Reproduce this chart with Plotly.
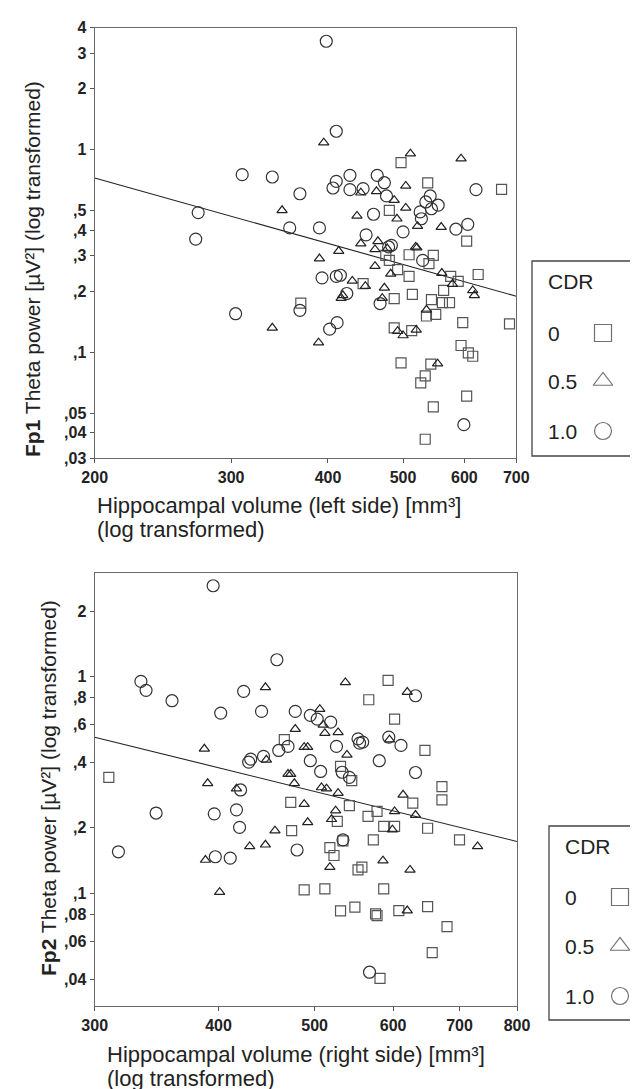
import plotly.graph_objects as go

# ---------------- data: top panel (Fp1 vs left hippocampal volume) ----------------
top_x_cdr0 = [369, 497, 538, 670, 480, 604, 509, 547, 475, 480, 540, 492, 509, 576, 589, 625, 444, 564, 487, 514,
              544, 562, 574, 536, 551, 597, 686, 487, 513, 594, 607, 615, 497, 543, 534, 527, 604, 547, 534]
top_y_cdr0 = [0.175, 0.863, 0.685, 0.637, 0.502, 0.354, 0.303, 0.301, 0.301, 0.284, 0.274, 0.256, 0.237, 0.237,
              0.224, 0.242, 0.218, 0.202, 0.184, 0.193, 0.182, 0.176, 0.176, 0.151, 0.154, 0.140, 0.138, 0.132,
              0.128, 0.108, 0.0992, 0.0956, 0.0886, 0.0873, 0.0764, 0.0706, 0.0607, 0.0537, 0.0372]

top_x_cdr05 = [349, 339, 395, 511, 594, 504, 441, 462, 487, 504, 436, 491, 522, 560, 441, 464, 460, 477, 519, 521,
               413, 390, 460, 482, 561, 579, 430, 447, 473, 615, 618, 418, 416, 470, 536, 389, 492, 500, 520, 554]
top_y_cdr05 = [0.502, 0.132, 1.083, 0.956, 0.903, 0.662, 0.613, 0.623, 0.563, 0.516, 0.471, 0.456, 0.419, 0.415,
               0.344, 0.353, 0.322, 0.325, 0.331, 0.328, 0.316, 0.290, 0.266, 0.244, 0.246, 0.217, 0.225, 0.212,
               0.208, 0.202, 0.191, 0.191, 0.185, 0.185, 0.162, 0.1115, 0.127, 0.121, 0.129, 0.0879]

top_x_cdr1 = [310, 339, 368, 272, 357, 270, 368, 304, 398, 410, 427, 463, 410, 473, 406, 427, 444, 476, 542, 555,
              535, 544, 621, 458, 526, 528, 606, 585, 390, 500, 448, 483, 479, 530, 393, 410, 415, 423, 467, 411,
              402, 599]
top_y_cdr1 = [0.753, 0.733, 0.606, 0.489, 0.411, 0.362, 0.161, 0.155, 3.43, 1.233, 0.747, 0.747, 0.698, 0.687,
              0.647, 0.635, 0.642, 0.591, 0.591, 0.532, 0.552, 0.511, 0.635, 0.480, 0.493, 0.456, 0.428, 0.405,
              0.411, 0.393, 0.380, 0.337, 0.331, 0.284, 0.233, 0.237, 0.240, 0.195, 0.174, 0.140, 0.130, 0.0439]

top_fit_x = [200, 700]
top_fit_y = [0.725, 0.189]

# ---------------- data: bottom panel (Fp2 vs right hippocampal volume) ----------------
bot_x_cdr0 = [466, 310, 473, 474, 488, 593, 567, 602, 646, 531, 545, 672, 672, 628, 542, 578, 566, 527, 587, 602,
              650, 534, 573, 700, 518, 523, 553, 558, 512, 587, 531, 549, 576, 578, 608, 650, 680, 657, 582]
bot_y_cdr0 = [0.510, 0.342, 0.262, 0.194, 0.1033, 0.958, 0.780, 0.635, 0.455, 0.384, 0.330, 0.310, 0.269, 0.260,
              0.253, 0.238, 0.226, 0.214, 0.203, 0.203, 0.199, 0.174, 0.176, 0.176, 0.162, 0.149, 0.1278, 0.1316,
              0.1044, 0.1044, 0.0827, 0.0860, 0.0801, 0.0787, 0.0830, 0.0866, 0.0700, 0.0531, 0.0404]

bot_x_cdr05 = [446, 478, 488, 492, 387, 447, 470, 473, 477, 390, 417, 488, 456, 492, 430, 446, 388, 401, 537, 620,
               506, 510, 512, 528, 595, 539, 508, 514, 528, 614, 602, 632, 525, 520, 599, 730, 518, 586, 624, 620]
bot_y_cdr05 = [0.890, 0.571, 0.471, 0.471, 0.463, 0.412, 0.354, 0.354, 0.321, 0.321, 0.303, 0.257, 0.194, 0.212,
               0.164, 0.167, 0.142, 0.1009, 0.938, 0.846, 0.706, 0.597, 0.547, 0.551, 0.510, 0.434, 0.307, 0.303,
               0.289, 0.284, 0.238, 0.229, 0.240, 0.219, 0.196, 0.164, 0.1316, 0.141, 0.1278, 0.0830]

bot_x_cdr1 = [395, 458, 334, 338, 359, 424, 402, 442, 478, 495, 470, 460, 431, 429, 444, 495, 346, 396, 417, 420,
              421, 317, 480, 397, 411, 632, 503, 519, 553, 555, 559, 594, 611, 526, 507, 581, 533, 542, 632, 534,
              568]
bot_y_cdr1 = [2.62, 1.193, 0.948, 0.862, 0.772, 0.853, 0.677, 0.689, 0.689, 0.661, 0.475, 0.455, 0.415, 0.402,
              0.427, 0.408, 0.234, 0.232, 0.242, 0.201, 0.299, 0.155, 0.158, 0.147, 0.145, 0.814, 0.635, 0.615,
              0.515, 0.492, 0.497, 0.524, 0.480, 0.475, 0.364, 0.408, 0.361, 0.342, 0.360, 0.176, 0.0431]

bot_fit_x = [300, 800]
bot_fit_y = [0.524, 0.173]

# ---------------- ticks / labels ----------------
top_xticks = [200, 300, 400, 500, 600, 700]
top_yticks = [0.03, 0.04, 0.05, 0.1, 0.2, 0.3, 0.4, 0.5, 1, 2, 3, 4]
top_yticktext = [",03", ",04", ",05", ",1", ",2", ",3", ",4", ",5", "1", "2", "3", "4"]
bot_xticks = [300, 400, 500, 600, 700, 800]
bot_yticks = [0.04, 0.06, 0.08, 0.1, 0.2, 0.4, 0.6, 0.8, 1, 2]
bot_yticktext = [",04", ",06", ",08", ",1", ",2", ",4", ",6", ",8", "1", "2"]

cdr_labels = ["0", "0.5", "1.0"]
cdr_symbols = ["square-open", "triangle-up-open", "circle-open"]
cdr_sizes = [10, 9, 12]
cdr_colors = ["#555555", "#222222", "#333333"]

W, H = 638, 1089
FONT = "Arial, Liberation Sans, sans-serif"

fig = go.Figure()

panels = [
    ("x", "y", [(top_x_cdr0, top_y_cdr0), (top_x_cdr05, top_y_cdr05), (top_x_cdr1, top_y_cdr1)], top_fit_x, top_fit_y),
    ("x2", "y2", [(bot_x_cdr0, bot_y_cdr0), (bot_x_cdr05, bot_y_cdr05), (bot_x_cdr1, bot_y_cdr1)], bot_fit_x, bot_fit_y),
]
for xa, ya, groups, fx, fy in panels:
    fig.add_trace(go.Scatter(x=fx, y=fy, mode="lines", line=dict(color="#222", width=1.1),
                             xaxis=xa, yaxis=ya, showlegend=False, hoverinfo="skip"))
    for i, (gx, gy) in enumerate(groups):
        fig.add_trace(go.Scatter(
            x=gx, y=gy, mode="markers", xaxis=xa, yaxis=ya, showlegend=False,
            name="CDR " + cdr_labels[i],
            marker=dict(symbol=cdr_symbols[i], size=cdr_sizes[i], color=cdr_colors[i],
                        line=dict(width=1.2, color=cdr_colors[i]))))

# legend boxes drawn in pixel space on an overlay axis
legend_boxes = [
    dict(x0=524, y0=253, y1=448, lab_x=538, sym_x=595, rows=[273, 325, 373, 423]),
    dict(x0=541, y0=818, y1=1012, lab_x=555, sym_x=612, rows=[838, 889, 938, 988]),
]
shapes = []
annotations = []
for lb in legend_boxes:
    shapes.append(dict(type="rect", xref="x3", yref="y3", x0=lb["x0"], x1=700, y0=lb["y0"], y1=lb["y1"],
                       line=dict(color="#444", width=1.3), fillcolor="rgba(0,0,0,0)", layer="above"))
    annotations.append(dict(xref="x3", yref="y3", x=lb["lab_x"], y=lb["rows"][0], text="CDR",
                            showarrow=False, xanchor="left", yanchor="middle",
                            font=dict(family=FONT, size=21, color="#222")))
    for i, lab in enumerate(cdr_labels):
        annotations.append(dict(xref="x3", yref="y3", x=lb["lab_x"], y=lb["rows"][i + 1], text=lab,
                                showarrow=False, xanchor="left", yanchor="middle",
                                font=dict(family=FONT, size=21, color="#222")))
    fig.add_trace(go.Scatter(
        x=[lb["sym_x"]] * 3, y=lb["rows"][1:], mode="markers", xaxis="x3", yaxis="y3", showlegend=False,
        hoverinfo="skip", cliponaxis=False,
        marker=dict(symbol=cdr_symbols, size=[17, 17, 17], color="#333", line=dict(width=1.2, color="#333"))))

# axis titles (each line placed separately for tight line spacing)
xtitle_lines = [
    (87, 497, "Hippocampal volume (left side) [mm³]"),
    (87, 521, "(log transformed)"),
    (97, 1046, "Hippocampal volume (right side) [mm³]"),
    (97, 1070, "(log transformed)"),
]
for tx, ty, tt in xtitle_lines:
    annotations.append(dict(xref="x3", yref="y3", x=tx, y=ty, xanchor="left", yanchor="middle",
                            showarrow=False, text=tt, font=dict(family=FONT, size=22, color="#222")))

annotations += [
    dict(xref="x3", yref="y3", x=24, y=261, textangle=-90, showarrow=False, xanchor="center", yanchor="middle",
         text="<b>Fp1</b> Theta power [µV²] (log transformed)",
         font=dict(family=FONT, size=21, color="#222")),
    dict(xref="x3", yref="y3", x=40, y=780, textangle=-90, showarrow=False, xanchor="center", yanchor="middle",
         text="<b>Fp2</b> Theta power [µV²] (log transformed)",
         font=dict(family=FONT, size=21, color="#222")),
]

tickfont = dict(family=FONT, size=16, color="#222", weight="bold")
axis_common = dict(type="log", showgrid=False, zeroline=False, showline=True, mirror=True,
                   linecolor="#6a6a6a", linewidth=1.3, ticks="outside", ticklen=4, tickcolor="#555",
                   tickfont=tickfont, automargin=False)

fig.update_layout(
    width=W, height=H, margin=dict(l=0, r=0, t=0, b=0, pad=0, autoexpand=False),
    paper_bgcolor="white", plot_bgcolor="rgba(0,0,0,0)",
    showlegend=False,
    xaxis=dict(axis_common, domain=[86.7 / W, 508.3 / W], anchor="y",
               range=[2.30103, 2.845098], tickvals=top_xticks, ticktext=[str(t) for t in top_xticks]),
    yaxis=dict(axis_common, domain=[1 - 450.2 / H, 1 - 19.7 / H], anchor="x",
               range=[-1.522879, 0.60206], tickvals=top_yticks, ticktext=top_yticktext),
    xaxis2=dict(axis_common, domain=[86.7 / W, 509 / W], anchor="y2",
                range=[2.477121, 2.90309], tickvals=bot_xticks, ticktext=[str(t) for t in bot_xticks]),
    yaxis2=dict(axis_common, domain=[1 - 998.3 / H, 1 - 565 / H], anchor="x2",
                range=[-1.522879, 0.477121], tickvals=bot_yticks, ticktext=bot_yticktext),
    xaxis3=dict(domain=[0, 1], range=[0, W], visible=False, anchor="y3", fixedrange=True, automargin=False),
    yaxis3=dict(domain=[0, 1], range=[H, 0], visible=False, anchor="x3", fixedrange=True, automargin=False),
    shapes=shapes,
    annotations=annotations,
)

fig.write_html("out.html")
